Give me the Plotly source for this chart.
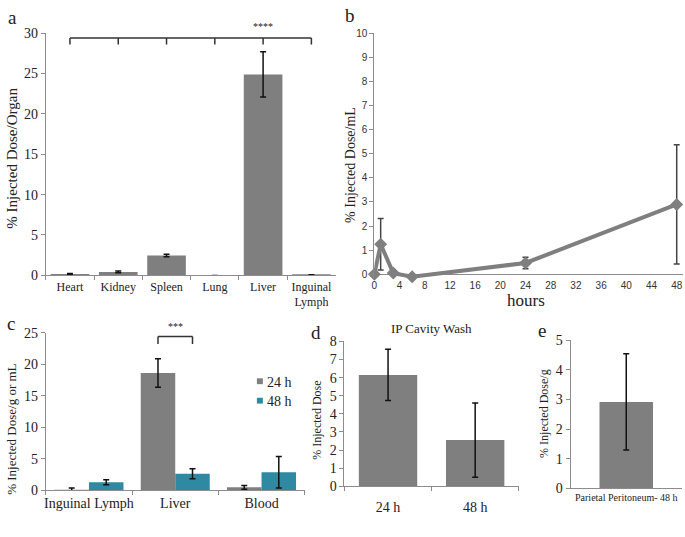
import plotly.graph_objects as go

# ---- data ----
# a: biodistribution per organ
organs = ['Heart', 'Kidney', 'Spleen', 'Lung', 'Liver', 'Inguinal<br>Lymph']
organ_dose = [0.15, 0.42, 2.45, -0.05, 24.9, 0.05]
organ_err = [0.08, 0.12, 0.15, 0.04, 2.8, 0.03]

# b: blood time course
horas = [0, 1, 3, 6, 24, 48]
blood_dose = [0.0, 1.25, 0.05, -0.1, 0.47, 2.9]
blood_err = [0.0, 1.07, 0.0, 0.0, 0.24, 2.47]

# c: tissues 24 h vs 48 h
tecidos = ['Inguinal Lymph', 'Liver', 'Blood']
dose_24 = [0.05, 18.6, 0.45]
err_24 = [0.3, 2.25, 0.3]
dose_48 = [1.25, 2.6, 2.85]
err_48 = [0.4, 0.8, 2.5]
legenda_c = ['24 h', '48 h']

# d: IP cavity wash
tempos = ['24 h', '48 h']
wash_dose = [6.15, 2.55]
wash_err = [1.42, 2.05]

# e: parietal peritoneum
perit_cat = ['Parietal Peritoneum- 48 h']
perit_dose = [2.92]
perit_err = [1.63]

CINZA = '#7f7f7f'
AZUL = '#2f89a2'
SERIF = 'Liberation Serif'
W, H = 685, 537


def px(x):
    return x / W


def py(y):
    return 1 - y / H


fig = go.Figure()

# a
fig.add_trace(go.Bar(x=organs, y=organ_dose, marker=dict(color=CINZA, line=dict(width=0)),
                     error_y=dict(type='data', array=organ_err, color='#111', thickness=1.5, width=3),
                     xaxis='x', yaxis='y', showlegend=False))
# b
fig.add_trace(go.Scatter(x=horas, y=blood_dose, mode='lines+markers',
                         line=dict(color=CINZA, width=4),
                         marker=dict(symbol='diamond', size=10, color=CINZA),
                         error_y=dict(type='data', array=blood_err, color='#444', thickness=1.5, width=3),
                         cliponaxis=False, xaxis='x2', yaxis='y2', showlegend=False))
# c
fig.add_trace(go.Bar(x=tecidos, y=dose_24, name=legenda_c[0], marker=dict(color=CINZA, line=dict(width=0)),
                     error_y=dict(type='data', array=err_24, color='#111', thickness=1.5, width=3),
                     xaxis='x3', yaxis='y3', showlegend=False))
fig.add_trace(go.Bar(x=tecidos, y=dose_48, name=legenda_c[1], marker=dict(color=AZUL, line=dict(width=0)),
                     error_y=dict(type='data', array=err_48, color='#111', thickness=1.5, width=3),
                     xaxis='x3', yaxis='y3', showlegend=False))
# d
fig.add_trace(go.Bar(x=tempos, y=wash_dose, marker=dict(color=CINZA, line=dict(width=0)),
                     error_y=dict(type='data', array=wash_err, color='#111', thickness=1.5, width=3),
                     width=0.67, xaxis='x4', yaxis='y4', showlegend=False))
# e
fig.add_trace(go.Bar(x=perit_cat, y=perit_dose, marker=dict(color=CINZA, line=dict(width=0)),
                     error_y=dict(type='data', array=perit_err, color='#111', thickness=1.5, width=3),
                     width=0.48, xaxis='x5', yaxis='y5', showlegend=False))

eixo = dict(showline=True, linecolor='#8c8c8c', linewidth=1, showgrid=False, zeroline=False,
            ticks='outside', tickcolor='#8c8c8c', ticklen=4, tickangle=0)
tf_serif = dict(family=SERIF, size=14, color='#222')
tf_sans = dict(family='Liberation Sans', size=10, color='#333')

# b: y range goes a bit below 0 so the -0.1 point shows; the zero line plays the x axis
b_lo = -0.15
b_px = (275 - 27) / 10.0

fig.update_layout(
    width=W, height=H, margin=dict(l=0, r=0, t=0, b=0),
    plot_bgcolor='white', paper_bgcolor='white',
    barmode='group', bargap=0.2, bargroupgap=0,
    font=dict(family=SERIF, color='#222'),
    showlegend=False,
    # a
    xaxis=dict(eixo, domain=[px(43), px(334)], anchor='y', tickson='boundaries',
               tickfont=dict(family=SERIF, size=12, color='#222')),
    yaxis=dict(eixo, domain=[py(276), py(27)], anchor='x', range=[0, 30], dtick=5, tickfont=tf_serif),
    # b
    xaxis2=dict(eixo, domain=[px(373), px(683)], anchor='y2', range=[0, 49], dtick=4,
                showline=False, ticks='', tickfont=tf_sans),
    yaxis2=dict(eixo, domain=[py(275 - b_lo * b_px), py(27)], anchor='x2', range=[b_lo, 10], dtick=1,
                zeroline=True, zerolinecolor='#8c8c8c', zerolinewidth=1, tickfont=tf_sans),
    # c
    xaxis3=dict(eixo, domain=[px(43), px(303)], anchor='y3', tickson='boundaries', tickfont=tf_serif),
    yaxis3=dict(eixo, domain=[py(497), py(335)], anchor='x3', range=[0, 25], dtick=5, tickfont=tf_serif),
    # d
    xaxis4=dict(eixo, domain=[px(343), px(518)], anchor='y4', tickson='boundaries', tickfont=tf_serif,
                ticklabelstandoff=8),
    yaxis4=dict(eixo, domain=[py(493), py(344)], anchor='x4', range=[0, 8], dtick=1, tickfont=tf_serif),
    # e
    xaxis5=dict(eixo, domain=[px(570), px(682)], anchor='y5', ticks='',
                tickfont=dict(family=SERIF, size=10, color='#222')),
    yaxis5=dict(eixo, domain=[py(495), py(343)], anchor='x5', range=[0, 5], dtick=1, tickfont=tf_serif),
)

# a: bracket Heart -> Inguinal
linha = dict(color='#333', width=1.5)
fig.add_shape(type='line', xref='x', yref='y', x0=0, x1=len(organs) - 1, y0=29.4, y1=29.4, line=linha)
for i in range(len(organs)):
    fig.add_shape(type='line', xref='x', yref='y', x0=i, x1=i, y0=29.4, y1=28.6, line=linha)
fig.add_annotation(x=organs[4], y=29.9, xref='x', yref='y', text='****', showarrow=False,
                   font=dict(size=10, color='#222'), yanchor='bottom')

# c: bracket Liver 24 h vs 48 h
fig.add_shape(type='line', xref='x3', yref='y3', x0=0.8, x1=1.2, y0=24.4, y1=24.4, line=linha)
fig.add_shape(type='line', xref='x3', yref='y3', x0=0.8, x1=0.8, y0=24.4, y1=23.2, line=linha)
fig.add_shape(type='line', xref='x3', yref='y3', x0=1.2, x1=1.2, y0=24.4, y1=23.2, line=linha)
fig.add_annotation(x=tecidos[1], y=24.8, xref='x3', yref='y3', text='***', showarrow=False,
                   font=dict(size=10, color='#222'), yanchor='bottom')

# c: small legend
for k, (nome, cor) in enumerate(zip(legenda_c, [CINZA, AZUL])):
    yy = 385 + 20 * k
    fig.add_shape(type='rect', xref='paper', yref='paper', x0=px(255), x1=px(261),
                  y0=py(yy + 3), y1=py(yy - 3), fillcolor=cor, line=dict(width=0))
    fig.add_annotation(x=px(263), y=py(yy + 1), xref='paper', yref='paper', text=nome, showarrow=False,
                       xanchor='left', yanchor='middle', font=dict(family=SERIF, size=14, color='#222'))


# titles and panel letters
def texto(x, y, t, size, angle=0):
    fig.add_annotation(x=px(x), y=py(y), xref='paper', yref='paper', text=t, showarrow=False,
                       textangle=angle, font=dict(family=SERIF, size=size, color='#222'),
                       xanchor='center', yanchor='middle')


texto(9, 155, '% Injected Dose/Organ', 15, -90)
texto(349, 162, '% Injected Dose/mL', 14, -90)
texto(9, 434, '% Injected Dose/g or mL', 13, -90)
texto(316, 425, '% Injected Dose', 12, -90)
texto(544, 418, '% Injected Dose/g', 12, -90)
texto(525, 302, 'hours', 17)
texto(430, 331, 'IP Cavity Wash', 13)
texto(10, 11, 'a', 19)
texto(349, 9, 'b', 19)
texto(8, 326, 'c', 19)
texto(314, 335, 'd', 19)
texto(541, 333, 'e', 19)

# the page body has a default 8px margin; drop it so the 685x537 figure fills the window
fig.write_html("out.html", config={'displayModeBar': False},
               post_script="document.body.style.margin='0';")
